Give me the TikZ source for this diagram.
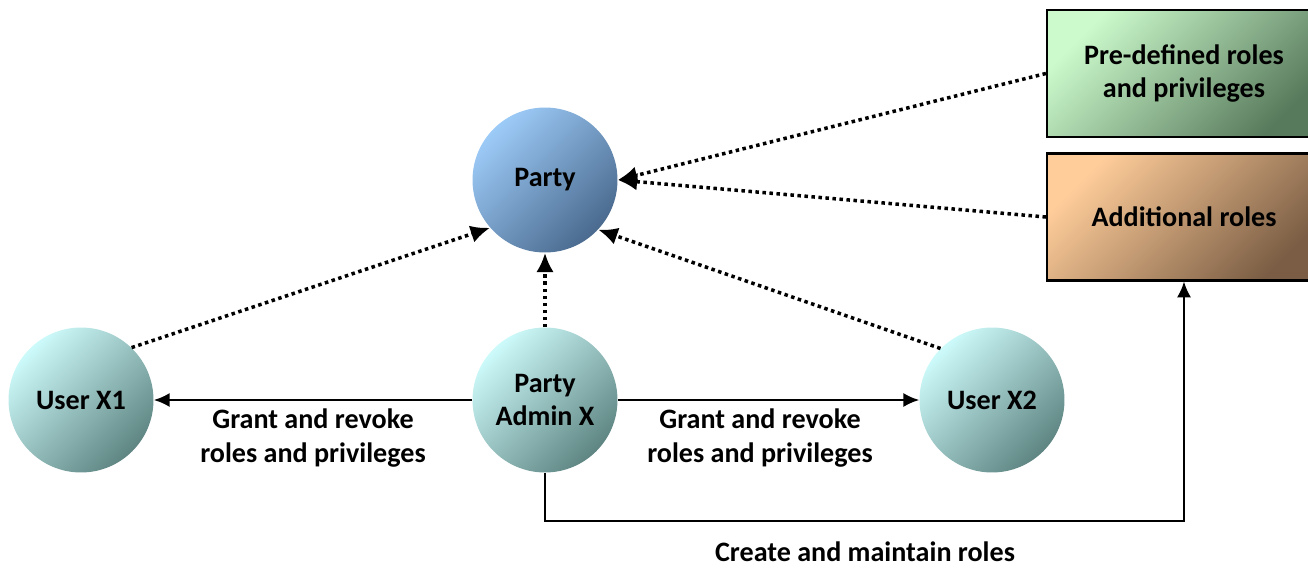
\documentclass[tikz,border=0pt]{standalone}
\usepackage{fontspec}
\setmainfont{Carlito}
\usepackage{xcolor}
\usetikzlibrary{arrows.meta}

\definecolor{partytop}{HTML}{9DCBF8}
\definecolor{partybot}{HTML}{4A6A8E}
\definecolor{usertop}{HTML}{CDFAFA}
\definecolor{userbot}{HTML}{5E8582}
\definecolor{predeftop}{HTML}{CCFACC}
\definecolor{predefbot}{HTML}{587A5C}
\definecolor{addtop}{HTML}{FFCD9A}
\definecolor{addbot}{HTML}{7A5D44}

\tikzset{
  ball/.style={circle, minimum size=2.9cm, inner sep=0pt, align=center},
  partyball/.style={ball, top color=partytop, bottom color=partybot, shading angle=45},
  userball/.style={ball, top color=usertop, bottom color=userbot, shading angle=45},
  rolebox/.style={rectangle, draw=black, line width=1.2pt, minimum width=5.48cm,
    minimum height=2.54cm, align=center},
  predefbox/.style={rolebox, top color=predeftop, bottom color=predefbot, shading angle=45},
  addbox/.style={rolebox, top color=addtop, bottom color=addbot, shading angle=45},
  dots/.style={line width=2pt, dash pattern=on 2pt off 2pt,
    -{Latex[length=11pt,width=10pt]}},
  solid arrow/.style={line width=1.1pt, -{Latex[length=9pt,width=8pt]}},
  caption/.style={align=center, inner sep=0pt}
}

\begin{document}
\begin{tikzpicture}[x=0.02cm, y=-0.02cm, font=\fontsize{16}{18.8}\selectfont\bfseries]
\useasboundingbox (0,0) rectangle (1308,568);

\node[partyball] (party) at (545, 180) {Party};
\node[userball] (user1) at (81, 400) {User X1};
\node[userball] (admin) at (545, 400) {Party\\Admin X};
\node[userball] (user2) at (992, 400) {User X2};

\node[predefbox] (predef) at (1184, 73.5) {Pre-defined roles\\and privileges};
\node[addbox] (addroles) at (1184, 217) {Additional roles};

\draw[dots] (user1.46) -- (party.221);
\draw[dots] (admin.north) -- (party.south);
\draw[dots] (user2.135) -- (party.317);
\draw[dots] (predef.west) -- (party.east);
\draw[dots] (addroles.west) -- (party.east);

\draw[solid arrow] (admin.west) -- (user1.east);
\draw[solid arrow] (admin.east) -- (user2.west);

\coordinate (bend) at (545, 521);
\draw[solid arrow] (admin.south) -- (bend) -| (addroles.south);

\node[caption] (grant1) at (313, 438) {Grant and revoke\\roles and privileges};
\node[caption] (grant2) at (760, 438) {Grant and revoke\\roles and privileges};
\node[caption] (create) at (865, 552) {Create and maintain roles};
\end{tikzpicture}
\end{document}
